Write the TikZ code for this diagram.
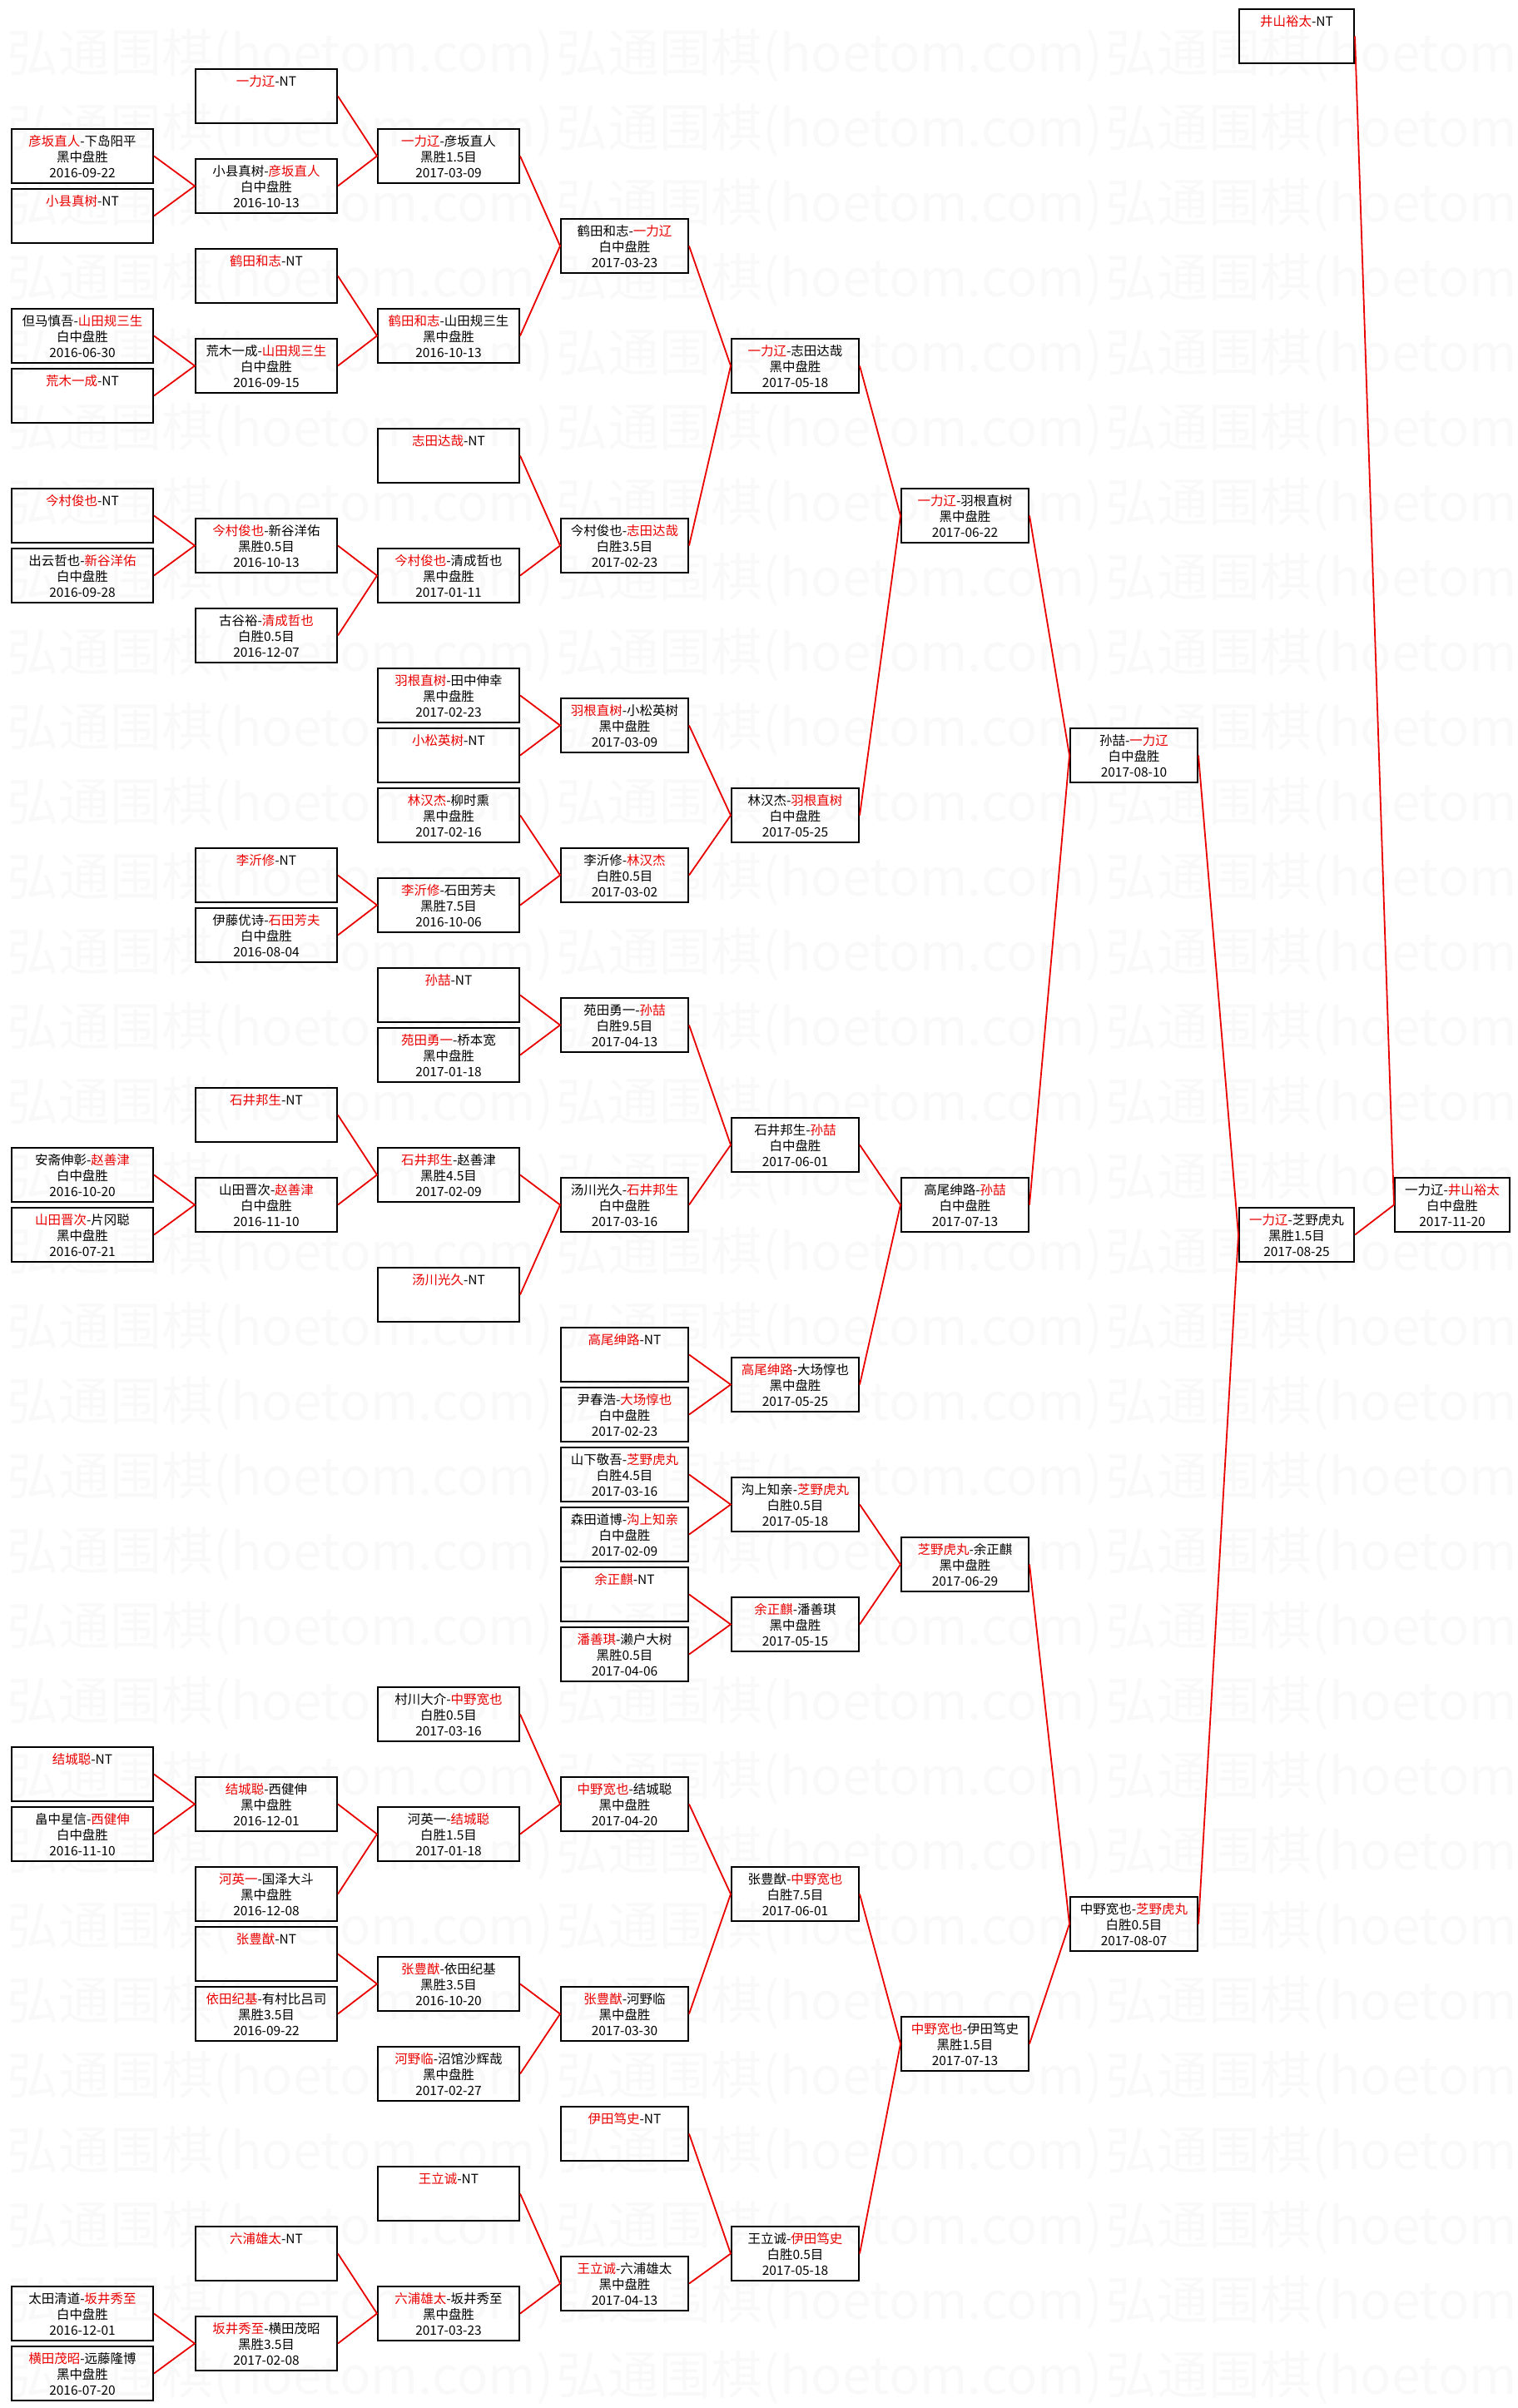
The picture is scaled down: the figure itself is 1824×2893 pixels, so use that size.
\documentclass[tikz,border=0pt]{standalone}
\usepackage{fontspec}
\newfontfamily\cjk{Noto Sans CJK SC}
\definecolor{wmgray}{gray}{0.975}
\definecolor{winred}{RGB}{235,0,0}
\newcommand\boxfont{\cjk\fontsize{4.4}{5.5}\selectfont}
\newcommand\wmfont{\cjk\fontsize{17.6}{20}\selectfont}
\newcommand\win[1]{\textcolor{winred}{#1}}
\newcommand\hi{\rule{0pt}{4.5pt}}
\newcommand\lo{\rule[-0.5pt]{0pt}{3pt}}
\newcommand\game[3]{\hi#1\\#2\\#3\lo}
\newcommand\bye[1]{\hi\win{#1}-NT\\\strut\\\lo}
\tikzset{
  game/.style={draw, line width=0.2mm, anchor=north west, minimum height=6.5mm,
    inner sep=0pt, align=center, font=\boxfont},
  wbox/.style={game, minimum width=17mm},
  mbox/.style={game, minimum width=15.3mm},
  nbox/.style={game, minimum width=13.8mm},
  link/.style={draw=winred, line width=0.18mm},
  wmtext/.style={anchor=west, inner sep=0pt, text=wmgray, font=\wmfont}
}
\begin{document}
\begin{tikzpicture}[x=0.1mm, y=-0.1mm]
\useasboundingbox (0,0) rectangle (1824,2893);
% watermark
\begin{scope}
\clip (0,0) rectangle (1824,2893);
\foreach \row in {0,...,31}
  \foreach \col in {0,1,2}
    \node[wmtext] (wm-\row-\col) at (8+660*\col, 67+90*\row) {弘通围棋(hoetom.com)};
\end{scope}
% first round
\node[wbox] (a1) at (13,154) {\game{\win{彦坂直人}-下岛阳平}{黑中盘胜}{2016-09-22}};
\node[wbox] (a2) at (13,226) {\bye{小县真树}};
\node[wbox] (a3) at (13,370) {\game{但马慎吾-\win{山田规三生}}{白中盘胜}{2016-06-30}};
\node[wbox] (a4) at (13,442) {\bye{荒木一成}};
\node[wbox] (a5) at (13,586) {\bye{今村俊也}};
\node[wbox] (a6) at (13,658) {\game{出云哲也-\win{新谷洋佑}}{白中盘胜}{2016-09-28}};
\node[wbox] (a7) at (13,1378) {\game{安斋伸彰-\win{赵善津}}{白中盘胜}{2016-10-20}};
\node[wbox] (a8) at (13,1450) {\game{\win{山田晋次}-片冈聪}{黑中盘胜}{2016-07-21}};
\node[wbox] (a9) at (13,2098) {\bye{结城聪}};
\node[wbox] (a10) at (13,2170) {\game{畠中星信-\win{西健伸}}{白中盘胜}{2016-11-10}};
\node[wbox] (a11) at (13,2746) {\game{太田清道-\win{坂井秀至}}{白中盘胜}{2016-12-01}};
\node[wbox] (a12) at (13,2818) {\game{\win{横田茂昭}-远藤隆博}{黑中盘胜}{2016-07-20}};
% second round
\node[wbox] (b1) at (234,82) {\bye{一力辽}};
\node[wbox] (b2) at (234,190) {\game{小县真树-\win{彦坂直人}}{白中盘胜}{2016-10-13}};
\node[wbox] (b3) at (234,298) {\bye{鹤田和志}};
\node[wbox] (b4) at (234,406) {\game{荒木一成-\win{山田规三生}}{白中盘胜}{2016-09-15}};
\node[wbox] (b5) at (234,622) {\game{\win{今村俊也}-新谷洋佑}{黑胜0.5目}{2016-10-13}};
\node[wbox] (b6) at (234,730) {\game{古谷裕-\win{清成哲也}}{白胜0.5目}{2016-12-07}};
\node[wbox] (b7) at (234,1018) {\bye{李沂修}};
\node[wbox] (b8) at (234,1090) {\game{伊藤优诗-\win{石田芳夫}}{白中盘胜}{2016-08-04}};
\node[wbox] (b9) at (234,1306) {\bye{石井邦生}};
\node[wbox] (b10) at (234,1414) {\game{山田晋次-\win{赵善津}}{白中盘胜}{2016-11-10}};
\node[wbox] (b11) at (234,2134) {\game{\win{结城聪}-西健伸}{黑中盘胜}{2016-12-01}};
\node[wbox] (b12) at (234,2242) {\game{\win{河英一}-国泽大斗}{黑中盘胜}{2016-12-08}};
\node[wbox] (b13) at (234,2314) {\bye{张豊猷}};
\node[wbox] (b14) at (234,2386) {\game{\win{依田纪基}-有村比吕司}{黑胜3.5目}{2016-09-22}};
\node[wbox] (b15) at (234,2674) {\bye{六浦雄太}};
\node[wbox] (b16) at (234,2782) {\game{\win{坂井秀至}-横田茂昭}{黑胜3.5目}{2017-02-08}};
% third round
\node[wbox] (c1) at (453,154) {\game{\win{一力辽}-彦坂直人}{黑胜1.5目}{2017-03-09}};
\node[wbox] (c2) at (453,370) {\game{\win{鹤田和志}-山田规三生}{黑中盘胜}{2016-10-13}};
\node[wbox] (c3) at (453,514) {\bye{志田达哉}};
\node[wbox] (c4) at (453,658) {\game{\win{今村俊也}-清成哲也}{黑中盘胜}{2017-01-11}};
\node[wbox] (c5) at (453,802) {\game{\win{羽根直树}-田中伸幸}{黑中盘胜}{2017-02-23}};
\node[wbox] (c6) at (453,874) {\bye{小松英树}};
\node[wbox] (c7) at (453,946) {\game{\win{林汉杰}-柳时熏}{黑中盘胜}{2017-02-16}};
\node[wbox] (c8) at (453,1054) {\game{\win{李沂修}-石田芳夫}{黑胜7.5目}{2016-10-06}};
\node[wbox] (c9) at (453,1162) {\bye{孙喆}};
\node[wbox] (c10) at (453,1234) {\game{\win{苑田勇一}-桥本宽}{黑中盘胜}{2017-01-18}};
\node[wbox] (c11) at (453,1378) {\game{\win{石井邦生}-赵善津}{黑胜4.5目}{2017-02-09}};
\node[wbox] (c12) at (453,1522) {\bye{汤川光久}};
\node[wbox] (c13) at (453,2026) {\game{村川大介-\win{中野宽也}}{白胜0.5目}{2017-03-16}};
\node[wbox] (c14) at (453,2170) {\game{河英一-\win{结城聪}}{白胜1.5目}{2017-01-18}};
\node[wbox] (c15) at (453,2350) {\game{\win{张豊猷}-依田纪基}{黑胜3.5目}{2016-10-20}};
\node[wbox] (c16) at (453,2458) {\game{\win{河野临}-沼馆沙辉哉}{黑中盘胜}{2017-02-27}};
\node[wbox] (c17) at (453,2602) {\bye{王立诚}};
\node[wbox] (c18) at (453,2746) {\game{\win{六浦雄太}-坂井秀至}{黑中盘胜}{2017-03-23}};
% fourth round
\node[mbox] (d1) at (673,262) {\game{鹤田和志-\win{一力辽}}{白中盘胜}{2017-03-23}};
\node[mbox] (d2) at (673,622) {\game{今村俊也-\win{志田达哉}}{白胜3.5目}{2017-02-23}};
\node[mbox] (d3) at (673,838) {\game{\win{羽根直树}-小松英树}{黑中盘胜}{2017-03-09}};
\node[mbox] (d4) at (673,1018) {\game{李沂修-\win{林汉杰}}{白胜0.5目}{2017-03-02}};
\node[mbox] (d5) at (673,1198) {\game{苑田勇一-\win{孙喆}}{白胜9.5目}{2017-04-13}};
\node[mbox] (d6) at (673,1414) {\game{汤川光久-\win{石井邦生}}{白中盘胜}{2017-03-16}};
\node[mbox] (d7) at (673,1594) {\bye{高尾绅路}};
\node[mbox] (d8) at (673,1666) {\game{尹春浩-\win{大场惇也}}{白中盘胜}{2017-02-23}};
\node[mbox] (d9) at (673,1738) {\game{山下敬吾-\win{芝野虎丸}}{白胜4.5目}{2017-03-16}};
\node[mbox] (d10) at (673,1810) {\game{森田道博-\win{沟上知亲}}{白中盘胜}{2017-02-09}};
\node[mbox] (d11) at (673,1882) {\bye{余正麒}};
\node[mbox] (d12) at (673,1954) {\game{\win{潘善琪}-濑户大树}{黑胜0.5目}{2017-04-06}};
\node[mbox] (d13) at (673,2134) {\game{\win{中野宽也}-结城聪}{黑中盘胜}{2017-04-20}};
\node[mbox] (d14) at (673,2386) {\game{\win{张豊猷}-河野临}{黑中盘胜}{2017-03-30}};
\node[mbox] (d15) at (673,2530) {\bye{伊田笃史}};
\node[mbox] (d16) at (673,2710) {\game{\win{王立诚}-六浦雄太}{黑中盘胜}{2017-04-13}};
% fifth round
\node[mbox] (e1) at (878,406) {\game{\win{一力辽}-志田达哉}{黑中盘胜}{2017-05-18}};
\node[mbox] (e2) at (878,946) {\game{林汉杰-\win{羽根直树}}{白中盘胜}{2017-05-25}};
\node[mbox] (e3) at (878,1342) {\game{石井邦生-\win{孙喆}}{白中盘胜}{2017-06-01}};
\node[mbox] (e4) at (878,1630) {\game{\win{高尾绅路}-大场惇也}{黑中盘胜}{2017-05-25}};
\node[mbox] (e5) at (878,1774) {\game{沟上知亲-\win{芝野虎丸}}{白胜0.5目}{2017-05-18}};
\node[mbox] (e6) at (878,1918) {\game{\win{余正麒}-潘善琪}{黑中盘胜}{2017-05-15}};
\node[mbox] (e7) at (878,2242) {\game{张豊猷-\win{中野宽也}}{白胜7.5目}{2017-06-01}};
\node[mbox] (e8) at (878,2674) {\game{王立诚-\win{伊田笃史}}{白胜0.5目}{2017-05-18}};
% quarter finals
\node[mbox] (f1) at (1082,586) {\game{\win{一力辽}-羽根直树}{黑中盘胜}{2017-06-22}};
\node[mbox] (f2) at (1082,1414) {\game{高尾绅路-\win{孙喆}}{白中盘胜}{2017-07-13}};
\node[mbox] (f3) at (1082,1846) {\game{\win{芝野虎丸}-余正麒}{黑中盘胜}{2017-06-29}};
\node[mbox] (f4) at (1082,2422) {\game{\win{中野宽也}-伊田笃史}{黑胜1.5目}{2017-07-13}};
% semi finals
\node[mbox] (g1) at (1285,874) {\game{孙喆-\win{一力辽}}{白中盘胜}{2017-08-10}};
\node[mbox] (g2) at (1285,2278) {\game{中野宽也-\win{芝野虎丸}}{白胜0.5目}{2017-08-07}};
% final
\node[nbox] (h1) at (1488,10) {\bye{井山裕太}};
\node[nbox] (h2) at (1488,1450) {\game{\win{一力辽}-芝野虎丸}{黑胜1.5目}{2017-08-25}};
\node[nbox] (i1) at (1675,1414) {\game{一力辽-\win{井山裕太}}{白中盘胜}{2017-11-20}};
% links
\draw[link] (a1.east) -- (b2.west) -- (a2.east);
\draw[link] (a3.east) -- (b4.west) -- (a4.east);
\draw[link] (a5.east) -- (b5.west) -- (a6.east);
\draw[link] (a7.east) -- (b10.west) -- (a8.east);
\draw[link] (a9.east) -- (b11.west) -- (a10.east);
\draw[link] (a11.east) -- (b16.west) -- (a12.east);
\draw[link] (b1.east) -- (c1.west) -- (b2.east);
\draw[link] (b3.east) -- (c2.west) -- (b4.east);
\draw[link] (b5.east) -- (c4.west) -- (b6.east);
\draw[link] (b7.east) -- (c8.west) -- (b8.east);
\draw[link] (b9.east) -- (c11.west) -- (b10.east);
\draw[link] (b11.east) -- (c14.west) -- (b12.east);
\draw[link] (b13.east) -- (c15.west) -- (b14.east);
\draw[link] (b15.east) -- (c18.west) -- (b16.east);
\draw[link] (c1.east) -- (d1.west) -- (c2.east);
\draw[link] (c3.east) -- (d2.west) -- (c4.east);
\draw[link] (c5.east) -- (d3.west) -- (c6.east);
\draw[link] (c7.east) -- (d4.west) -- (c8.east);
\draw[link] (c9.east) -- (d5.west) -- (c10.east);
\draw[link] (c11.east) -- (d6.west) -- (c12.east);
\draw[link] (c13.east) -- (d13.west) -- (c14.east);
\draw[link] (c15.east) -- (d14.west) -- (c16.east);
\draw[link] (c17.east) -- (d16.west) -- (c18.east);
\draw[link] (d1.east) -- (e1.west) -- (d2.east);
\draw[link] (d3.east) -- (e2.west) -- (d4.east);
\draw[link] (d5.east) -- (e3.west) -- (d6.east);
\draw[link] (d7.east) -- (e4.west) -- (d8.east);
\draw[link] (d9.east) -- (e5.west) -- (d10.east);
\draw[link] (d11.east) -- (e6.west) -- (d12.east);
\draw[link] (d13.east) -- (e7.west) -- (d14.east);
\draw[link] (d15.east) -- (e8.west) -- (d16.east);
\draw[link] (e1.east) -- (f1.west) -- (e2.east);
\draw[link] (e3.east) -- (f2.west) -- (e4.east);
\draw[link] (e5.east) -- (f3.west) -- (e6.east);
\draw[link] (e7.east) -- (f4.west) -- (e8.east);
\draw[link] (f1.east) -- (g1.west) -- (f2.east);
\draw[link] (f3.east) -- (g2.west) -- (f4.east);
\draw[link] (g1.east) -- (h2.west) -- (g2.east);
\draw[link] (h1.east) -- (i1.west) -- (h2.east);
\end{tikzpicture}
\end{document}
